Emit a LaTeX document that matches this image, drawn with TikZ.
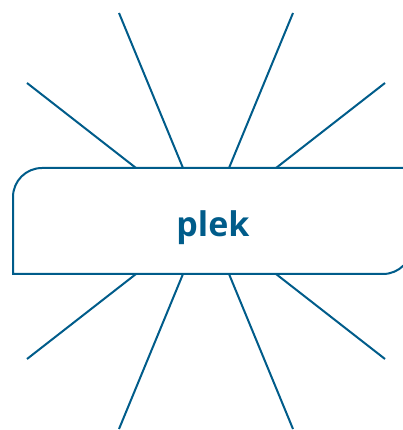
\documentclass[tikz,border=0pt]{standalone}
\usepackage{fontspec}
\setmainfont{Open Sans}
\usetikzlibrary{calc,positioning}
\definecolor{plekblue}{RGB}{0,92,138}
\tikzset{ray/.style={
            draw=plekblue,
            line width=2pt
        },
        frame/.style={
            draw=plekblue,
            line width=2pt
        },
        word/.style={
            text=plekblue,
            font=\fontsize{34}{40}\selectfont\bfseries,
            inner sep=0pt,
            anchor=base
        }
    }
\begin{document}
\begin{tikzpicture}[x=1pt,y=1pt]
        \useasboundingbox (0,0) rectangle (403,430);
        \clip (0,0) rectangle (403,430);

        % rays, edge point -> free end
        \foreach \n/\ex/\ey/\fx/\fy in {t1/136/262/27/347, t2/183/262/119/417,
                                        t3/229/262/293/417, t4/276/262/385/347,
                                        b1/136/156/27/71, b2/183/156/119/1,
                                        b3/229/156/293/1, b4/276/156/385/71}{
            \coordinate (\n-edge) at (\ex,\ey);
            \coordinate (\n-end) at (\fx,\fy);
            \draw[ray] (\n-edge) -- (\n-end);
        }

        % box with two round corners
        \draw[frame] (13,156) -- (13,233) arc[start angle=180, end angle=90, radius=29]
            -- (412,262) -- (412,185) arc[start angle=0, end angle=-90, radius=29] -- cycle;

        \node[word] (plek) at (213,193) {plek};
    \end{tikzpicture}
\end{document}
